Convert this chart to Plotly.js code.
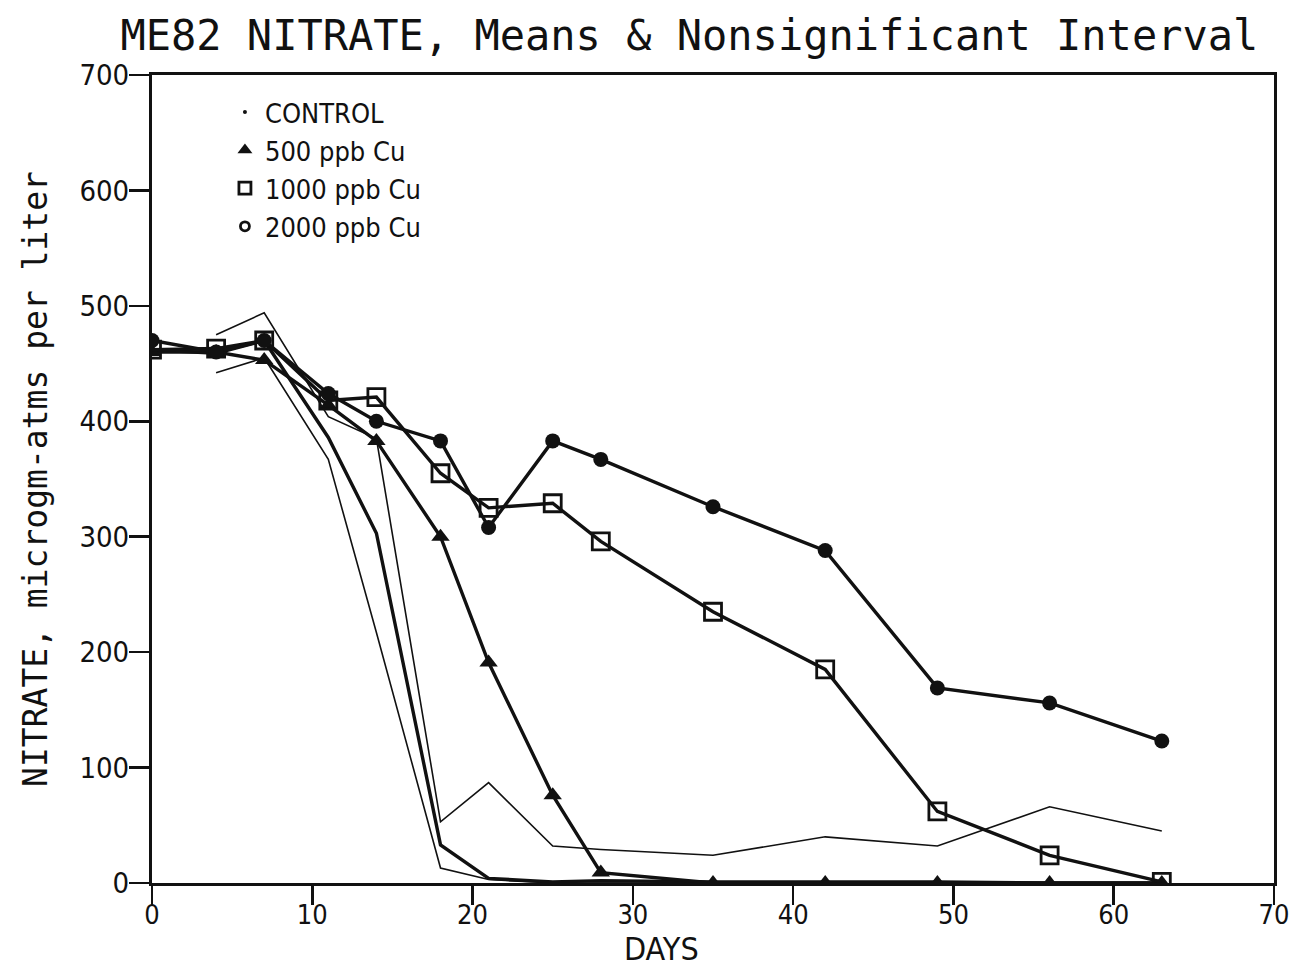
<!DOCTYPE html>
<html>
<head>
<meta charset="utf-8">
<script src="https://cdn.plot.ly/plotly-3.0.1.min.js"></script>
<style>html,body{margin:0;padding:0;background:#fff;}#chart{width:1291px;height:968px;}</style>
</head>
<body>
<div id="chart"></div>
<script>
const days = [0, 4, 7, 11, 14, 18, 21, 25, 28, 35, 42, 49, 56, 63];
const controlMean = [462, 459, 470, 386, 303, 33, 4, 1, 2, 1, 1, 1, 0, 0];
const controlUpper = [null, 475, 494, 404, 385, 53, 87, 32, 29, 24, 40, 32, 66, 45];
const controlLower = [null, 442, 455, 367, 217, 13, 3, 0, 0, 0, 0, 0, 0, 0];
const cu500 = [460, 460, 453, 414, 383, 300, 191, 76, 9, 0, 0, 0, 0, 0];
const cu1000 = [462, 463, 470, 418, 421, 355, 325, 329, 296, 235, 185, 62, 24, 1];
const cu2000 = [470, 460, 470, 424, 400, 383, 308, 383, 367, 326, 288, 169, 156, 123];
const legendNames = ["CONTROL", "500 ppb Cu", "1000 ppb Cu", "2000 ppb Cu"];
const xTicks = [0, 10, 20, 30, 40, 50, 60, 70];
const yTicks = [0, 100, 200, 300, 400, 500, 600, 700];

const narrow = "DejaVu Sans Condensed, Liberation Sans Narrow, sans-serif";
const mono = "DejaVu Sans Mono, Liberation Mono, monospace";

const thin = {color: "#111", width: 1.6};
const thick = {color: "#111", width: 3.4};

const traces = [
  {x: days, y: controlUpper, mode: "lines", line: thin, showlegend: false, hoverinfo: "skip"},
  {x: days, y: controlLower, mode: "lines", line: thin, showlegend: false, hoverinfo: "skip"},
  {x: days, y: controlMean, mode: "lines", line: thick, showlegend: false},
  {x: days, y: cu500, mode: "lines+markers", line: thick, showlegend: false,
   marker: {symbol: "triangle-up", size: 16, color: "#111"}},
  {x: days, y: cu1000, mode: "lines+markers", line: thick, showlegend: false,
   marker: {symbol: "square-open", size: 17, color: "#111", line: {width: 2.8, color: "#111"}}},
  {x: days, y: cu2000, mode: "lines+markers", line: thick, showlegend: false,
   marker: {symbol: "circle", size: 15, color: "#111"}},
  // legend entries (markers only)
  {x: [null], y: [null], mode: "markers", name: legendNames[0],
   marker: {symbol: "circle", size: 4, color: "#111"}},
  {x: [null], y: [null], mode: "markers", name: legendNames[1],
   marker: {symbol: "triangle-up", size: 13, color: "#111"}},
  {x: [null], y: [null], mode: "markers", name: legendNames[2],
   marker: {symbol: "square-open", size: 12, color: "#111", line: {width: 2.8, color: "#111"}}},
  {x: [null], y: [null], mode: "markers", name: legendNames[3],
   marker: {symbol: "circle-open", size: 9, color: "#111", line: {width: 2.8, color: "#111"}}}
];

const layout = {
  width: 1291, height: 968,
  paper_bgcolor: "#fff", plot_bgcolor: "#fff",
  margin: {l: 152, r: 17, t: 75, b: 85},
  title: {text: "ME82 NITRATE, Means &amp; Nonsignificant Interval",
          font: {family: mono, size: 42, color: "#111"},
          x: 0.534, xanchor: "center", y: 0.964, yanchor: "middle", xref: "container", yref: "container"},
  xaxis: {
    range: [0, 70], tickvals: xTicks, ticktext: xTicks.map(String),
    ticks: "outside", ticklen: 19, tickwidth: 2.5, tickcolor: "#111",
    showline: true, linewidth: 3, linecolor: "#111", mirror: true,
    showgrid: false, zeroline: false,
    tickfont: {family: narrow, size: 27, color: "#111"},
    ticklabeloverflow: "allow", ticklabelstandoff: -13,
    automargin: false
  },
  yaxis: {
    range: [0, 700], tickvals: yTicks, ticktext: yTicks.map(String),
    ticks: "outside", ticklen: 20, tickwidth: 2.5, tickcolor: "#111",
    showline: true, linewidth: 3, linecolor: "#111", mirror: true,
    showgrid: false, zeroline: false,
    tickfont: {family: narrow, size: 29, color: "#111"},
    ticklabeloverflow: "allow", ticklabelstandoff: -6,
    title: {text: "NITRATE, microgm-atms per liter", font: {family: mono, size: 33, color: "#111"}, standoff: 22},
    automargin: false
  },
  annotations: [
    {text: "DAYS", xref: "paper", yref: "paper", x: 0.454, y: -0.0815,
     xanchor: "center", yanchor: "middle", showarrow: false, borderpad: 0,
     font: {family: narrow, size: 32, color: "#111"}}
  ],
  showlegend: true,
  legend: {x: 0.065, y: 0.984, xanchor: "left", yanchor: "top",
           bgcolor: "rgba(0,0,0,0)", borderwidth: 0,
           font: {family: narrow, size: 27, color: "#111"},
           tracegroupgap: 0, itemwidth: 30}
};

Plotly.newPlot("chart", traces, layout, {displayModeBar: false, staticPlot: true});
</script>
</body>
</html>
